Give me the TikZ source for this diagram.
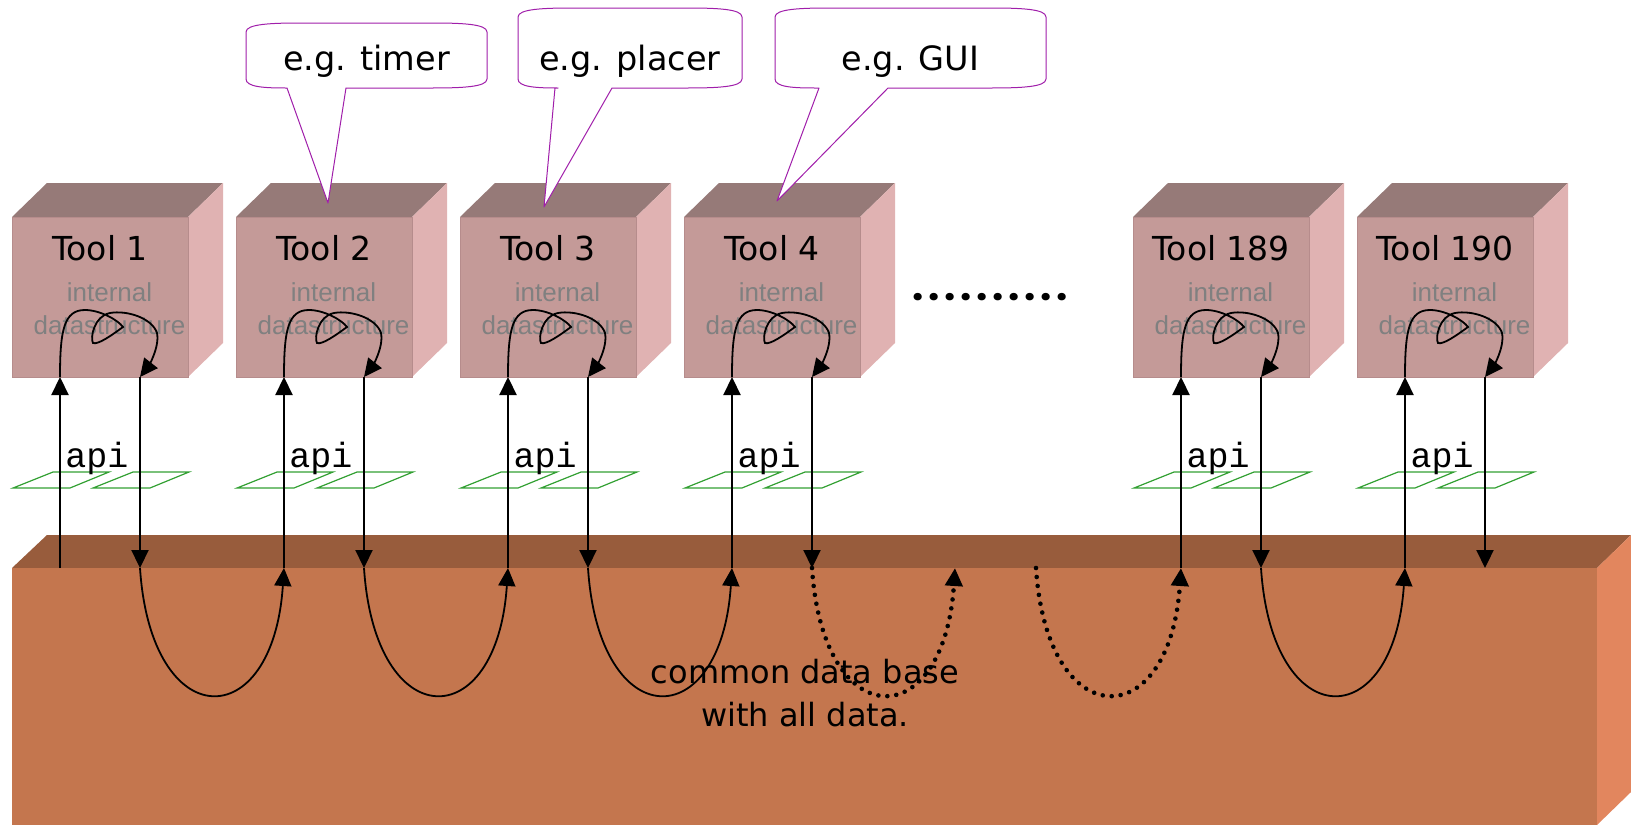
\documentclass[tikz,border=0pt]{standalone}
\usepackage{fontspec}
\setmainfont{DejaVu Sans}
\newfontfamily\arialf{Liberation Sans}
\newfontfamily\courf{Liberation Mono}
\newfontfamily\popf{Poppins}
\usetikzlibrary{arrows.meta}
\definecolor{toptool}{RGB}{150,122,120}
\definecolor{fronttool}{RGB}{196,154,152}
\definecolor{sidetool}{RGB}{224,178,178}
\definecolor{edgetool}{RGB}{182,140,140}
\definecolor{topdb}{RGB}{152,92,60}
\definecolor{frontdb}{RGB}{196,118,78}
\definecolor{sidedb}{RGB}{226,134,94}
\definecolor{apigreen}{RGB}{50,160,50}
\definecolor{bubblec}{RGB}{160,30,170}
\definecolor{dsgray}{RGB}{128,128,128}
\newcommand\dotsp{\makebox[16pt]{.}}
\begin{document}
\begin{tikzpicture}[x=1pt,y=-1pt,
  headtip/.style={-{Triangle[length=18pt,width=17pt]}},
  conn/.style={line width=2.2pt,headtip},
  loopc/.style={line width=1.8pt,headtip},
  dbc/.style={line width=1.8pt,headtip},
  dotc/.style={line width=4.6pt,line cap=round,dash pattern=on 0pt off 9pt},
  dotarrow/.style={dotc,headtip},
  toollabel/.style={inner sep=0pt,anchor=base,font=\fontsize{33}{40}\selectfont},
  dslabel/.style={inner sep=0pt,align=center,text=dsgray,font=\arialf\fontsize{26}{33}\selectfont},
  apilabel/.style={inner sep=0pt,anchor=base,font=\courf\fontsize{35}{40}\selectfont},
  apipar/.style={draw=apigreen,line width=1.2pt},
  bubble/.style={draw=bubblec,fill=white,line width=1pt,line join=round},
  bubtext/.style={inner sep=0pt,anchor=base,font=\fontsize{33.5}{40}\selectfont},
  dbtext/.style={inner sep=0pt,align=center,font=\fontsize{32}{43}\selectfont}
]
\useasboundingbox (0,0) rectangle (1631,825);
% common data base slab
\fill[topdb] (12,568) -- (47,535) -- (1631,535) -- (1597,568) -- cycle;
\fill[frontdb] (12,568) rectangle (1597,825);
\fill[sidedb] (1597,568) -- (1631,535) -- (1631,792) -- (1597,825) -- cycle;
% tools
\foreach \L/\lab/\n in {12/Tool 1/1,236/Tool 2/2,460/Tool 3/3,684/Tool 4/4,1133/Tool 189/189,1357/Tool 190/190}{
  \fill[toptool] (\L,217) -- (\L+35,183) -- (\L+211,183) -- (\L+176,217) -- cycle;
  \fill[sidetool] (\L+176,217) -- (\L+211,183) -- (\L+211,343) -- (\L+176,377) -- cycle;
  \filldraw[fill=fronttool,draw=edgetool,line width=1pt] (\L,217) rectangle (\L+176,377);
  \node[toollabel] (tl\n) at (\L+88,260) {\lab};
  \node[dslabel] (ds\n) at (\L+97.5,309) {internal\\datastructure};
  \draw[apipar] (\L+1,488) -- (\L+58,488) -- (\L+97,472) -- (\L+41,472) -- cycle;
  \draw[apipar] (\L+81,488) -- (\L+138,488) -- (\L+177,472) -- (\L+121,472) -- cycle;
  \node[apilabel] (api\n) at (\L+85,467) {api};
  \coordinate (ub\n) at (\L+48,568);
  \coordinate (ut\n) at (\L+48,377);
  \coordinate (dt\n) at (\L+128,377);
  \coordinate (db\n) at (\L+128,568);
  \draw[conn] (ub\n) -- (ut\n);
  \draw[conn] (dt\n) -- (db\n);
  \draw[loopc] (ut\n) .. controls (\L+48,330) and (\L+52,310) .. (\L+73,310)
    .. controls (\L+88,310) and (\L+106,320) .. (\L+111,327)
    .. controls (\L+100,335) and (\L+86,345) .. (\L+81,343)
    .. controls (\L+78,338) and (\L+82,316) .. (\L+98,313)
    .. controls (\L+115,310) and (\L+140,318) .. (\L+145,333)
    .. controls (\L+148,348) and (\L+135,368) .. (dt\n);
}
% data base flow
\foreach \a/\b in {1/2,2/3,3/4,189/190}{
  \draw[dbc] (db\a) .. controls +(11,168) and +(-11,168) .. (ub\b);
}
\coordinate (gapin) at (955,568);
\coordinate (gapout) at (1036,568);
\draw[dotarrow] (db4) .. controls +(11,168) and +(-11,168) .. (gapin);
\draw[dotarrow] (gapout) .. controls +(11,168) and +(-11,168) .. (ub189);
\node[dbtext] (dbt) at (805,693) {common data base\\with all data.};
% dots
\node[inner sep=0pt,anchor=base west,font=\popf\bfseries\fontsize{40}{40}\selectfont] (dots) at (910,300) {\dotsp\dotsp\dotsp\dotsp\dotsp\dotsp\dotsp\dotsp\dotsp\dotsp};
% bubbles
\foreach \l/\r/\t/\b/\xa/\xb/\ax/\ay/\txt/\n in {246/487/23/88/287/346/328/203/e.g. timer/1,518/742/8/88/555/612/544/207/e.g. placer/2,775/1046/8/88/819/888/777/201/e.g. GUI/3}{
  \coordinate (apex\n) at (\ax,\ay);
  \filldraw[bubble] (\l,\t+9) .. controls (\l,\t+1) and (\l+25,\t) .. (\l+55,\t) -- (\r-55,\t)
    .. controls (\r-25,\t) and (\r,\t+1) .. (\r,\t+9) -- (\r,\b-9)
    .. controls (\r,\b-1) and (\r-25,\b) .. (\r-55,\b) -- (\xb,\b) -- (apex\n) -- (\xa,\b) -- (\l+40,\b)
    .. controls (\l+18,\b) and (\l,\b-1) .. (\l,\b-9) -- cycle;
  \node[bubtext] (bt\n) at ({(\l+\r)/2},\b-18) {\txt};
}
\end{tikzpicture}
\end{document}
